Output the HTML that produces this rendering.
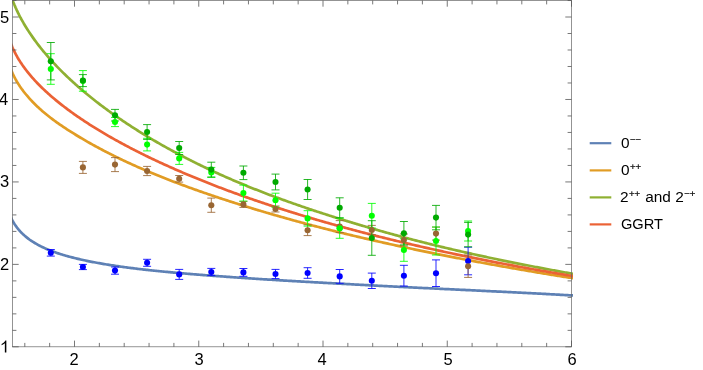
<!DOCTYPE html>
<html><head><meta charset="utf-8"><style>
html,body{margin:0;padding:0;background:#fff}
body{width:703px;height:370px;position:relative;overflow:hidden;font-family:"Liberation Sans",sans-serif;color:#000}
.t{position:absolute;will-change:transform;font-size:16.5px;line-height:1;white-space:nowrap}
.xl{transform:translateX(-50%);top:351px}
.yl{transform:translateY(-50%);left:0px}
.lg{position:absolute;will-change:transform;left:620.8px;font-size:15.4px;line-height:1;white-space:nowrap;transform:translateY(-50%)}
.lg sup{font-size:9.6px;vertical-align:baseline;position:relative;top:-5px;line-height:0;margin-left:0.4px;-webkit-text-stroke:0.2px #000}
</style></head><body>
<svg width="703" height="370" viewBox="0 0 703 370" style="position:absolute;left:0;top:0">
<defs><clipPath id="c"><rect x="12.0" y="0.5" width="561.00" height="346.3"/></clipPath></defs>
<g clip-path="url(#c)" fill="none" stroke-width="2.7" stroke-linejoin="round">
<path d="M7.41,206.87 L7.70,208.10 L7.99,209.23 L8.29,210.28 L8.58,211.25 L8.88,212.17 L9.17,213.03 L9.47,213.86 L9.76,214.64 L10.06,215.38 L10.35,216.10 L10.65,216.79 L10.94,217.45 L11.24,218.09 L11.53,218.70 L11.83,219.30 L12.12,219.88 L12.42,220.44 L12.71,220.99 L13.01,221.52 L13.30,222.03 L13.60,222.53 L13.89,223.02 L14.19,223.50 L14.48,223.97 L14.78,224.43 L15.07,224.87 L15.37,225.31 L15.66,225.73 L15.96,226.15 L16.25,226.56 L16.54,226.96 L16.84,227.36 L17.13,227.74 L17.43,228.12 L17.72,228.49 L18.02,228.86 L18.31,229.22 L18.61,229.57 L18.90,229.92 L19.20,230.26 L19.49,230.59 L19.79,230.92 L20.08,231.25 L20.38,231.57 L20.67,231.88 L20.97,232.19 L21.26,232.50 L21.56,232.80 L21.85,233.09 L22.15,233.38 L22.44,233.67 L22.74,233.96 L23.03,234.24 L23.33,234.51 L23.62,234.78 L23.92,235.05 L24.21,235.32 L24.51,235.58 L24.80,235.84 L26.04,236.89 L27.28,237.88 L28.52,238.83 L29.76,239.74 L31.00,240.60 L32.24,241.43 L33.48,242.22 L34.72,242.98 L35.96,243.71 L37.20,244.41 L38.44,245.09 L39.68,245.74 L40.92,246.36 L42.16,246.97 L43.40,247.56 L44.64,248.12 L45.87,248.67 L47.11,249.20 L48.35,249.72 L49.59,250.22 L50.83,250.70 L52.07,251.18 L53.31,251.64 L54.55,252.09 L55.79,252.52 L57.03,252.95 L58.27,253.36 L59.51,253.77 L60.75,254.17 L61.99,254.56 L63.23,254.93 L64.47,255.30 L65.71,255.67 L66.95,256.02 L68.19,256.37 L69.43,256.70 L70.67,257.04 L71.91,257.36 L73.15,257.68 L74.39,257.99 L75.63,258.30 L76.87,258.60 L78.11,258.89 L79.35,259.18 L80.59,259.47 L81.83,259.75 L83.07,260.02 L84.31,260.29 L85.55,260.55 L86.79,260.81 L88.02,261.07 L89.26,261.32 L90.50,261.57 L91.74,261.81 L92.98,262.05 L94.22,262.29 L95.46,262.52 L96.70,262.75 L97.94,262.98 L99.18,263.20 L100.42,263.42 L101.66,263.64 L102.90,263.85 L104.14,264.06 L105.38,264.27 L106.62,264.47 L107.86,264.67 L109.10,264.87 L110.34,265.07 L111.58,265.26 L112.82,265.45 L114.06,265.64 L115.30,265.83 L116.54,266.01 L117.78,266.20 L119.02,266.38 L120.26,266.55 L121.50,266.73 L122.74,266.90 L123.98,267.07 L125.22,267.24 L126.46,267.41 L127.70,267.57 L128.93,267.74 L130.17,267.90 L131.41,268.06 L132.65,268.21 L133.89,268.37 L135.13,268.52 L136.37,268.67 L137.61,268.82 L138.85,268.97 L140.09,269.12 L141.33,269.26 L142.57,269.40 L143.81,269.55 L145.05,269.69 L146.29,269.82 L147.53,269.96 L148.77,270.09 L150.01,270.23 L151.25,270.36 L152.49,270.49 L153.73,270.62 L154.97,270.74 L156.21,270.87 L157.45,271.00 L158.69,271.12 L159.93,271.24 L161.17,271.37 L162.41,271.49 L163.65,271.61 L164.89,271.73 L166.13,271.84 L167.37,271.96 L168.61,272.08 L169.85,272.19 L171.08,272.31 L172.32,272.42 L173.56,272.54 L174.80,272.65 L176.04,272.76 L177.28,272.87 L178.52,272.98 L179.76,273.09 L181.00,273.20 L182.24,273.31 L183.48,273.41 L184.72,273.52 L185.96,273.62 L187.20,273.73 L188.44,273.83 L189.68,273.94 L190.92,274.04 L192.16,274.14 L193.40,274.24 L194.64,274.34 L195.88,274.44 L197.12,274.54 L198.36,274.64 L199.60,274.74 L200.84,274.84 L202.08,274.94 L203.32,275.03 L204.56,275.13 L205.80,275.23 L207.04,275.32 L208.28,275.42 L209.52,275.51 L210.76,275.61 L211.99,275.70 L213.23,275.79 L214.47,275.89 L215.71,275.98 L216.95,276.07 L218.19,276.16 L219.43,276.25 L220.67,276.34 L221.91,276.43 L223.15,276.52 L224.39,276.61 L225.63,276.70 L226.87,276.79 L228.11,276.88 L229.35,276.97 L230.59,277.05 L231.83,277.14 L233.07,277.23 L234.31,277.32 L235.55,277.40 L236.79,277.49 L238.03,277.57 L239.27,277.66 L240.51,277.74 L241.75,277.83 L242.99,277.91 L244.23,278.00 L245.47,278.08 L246.71,278.16 L247.95,278.25 L249.19,278.33 L250.43,278.41 L251.67,278.50 L252.91,278.58 L254.14,278.66 L255.38,278.74 L256.62,278.82 L257.86,278.90 L259.10,278.98 L260.34,279.07 L261.58,279.15 L262.82,279.23 L264.06,279.31 L265.30,279.38 L266.54,279.46 L267.78,279.54 L269.02,279.62 L270.26,279.70 L271.50,279.77 L272.74,279.85 L273.98,279.93 L275.22,280.00 L276.46,280.08 L277.70,280.16 L278.94,280.23 L280.18,280.31 L281.42,280.38 L282.66,280.45 L283.90,280.53 L285.14,280.60 L286.38,280.67 L287.62,280.75 L288.86,280.82 L290.10,280.89 L291.34,280.97 L292.58,281.04 L293.82,281.11 L295.05,281.18 L296.29,281.25 L297.53,281.32 L298.77,281.39 L300.01,281.46 L301.25,281.54 L302.49,281.61 L303.73,281.68 L304.97,281.75 L306.21,281.82 L307.45,281.89 L308.69,281.95 L309.93,282.02 L311.17,282.09 L312.41,282.16 L313.65,282.23 L314.89,282.30 L316.13,282.37 L317.37,282.44 L318.61,282.51 L319.85,282.57 L321.09,282.64 L322.33,282.71 L323.57,282.78 L324.81,282.85 L326.05,282.92 L327.29,282.98 L328.53,283.05 L329.77,283.12 L331.01,283.19 L332.25,283.25 L333.49,283.32 L334.73,283.39 L335.97,283.46 L337.20,283.53 L338.44,283.59 L339.68,283.66 L340.92,283.73 L342.16,283.80 L343.40,283.86 L344.64,283.93 L345.88,284.00 L347.12,284.07 L348.36,284.14 L349.60,284.20 L350.84,284.27 L352.08,284.34 L353.32,284.41 L354.56,284.48 L355.80,284.54 L357.04,284.61 L358.28,284.68 L359.52,284.75 L360.76,284.81 L362.00,284.88 L363.24,284.95 L364.48,285.01 L365.72,285.08 L366.96,285.14 L368.20,285.21 L369.44,285.28 L370.68,285.34 L371.92,285.41 L373.16,285.47 L374.40,285.54 L375.64,285.60 L376.88,285.67 L378.11,285.73 L379.35,285.80 L380.59,285.86 L381.83,285.93 L383.07,285.99 L384.31,286.05 L385.55,286.12 L386.79,286.18 L388.03,286.25 L389.27,286.31 L390.51,286.37 L391.75,286.44 L392.99,286.50 L394.23,286.56 L395.47,286.63 L396.71,286.69 L397.95,286.75 L399.19,286.81 L400.43,286.88 L401.67,286.94 L402.91,287.00 L404.15,287.06 L405.39,287.12 L406.63,287.18 L407.87,287.25 L409.11,287.31 L410.35,287.37 L411.59,287.43 L412.83,287.49 L414.07,287.55 L415.31,287.61 L416.55,287.67 L417.79,287.73 L419.03,287.79 L420.26,287.85 L421.50,287.92 L422.74,287.98 L423.98,288.04 L425.22,288.09 L426.46,288.15 L427.70,288.21 L428.94,288.27 L430.18,288.33 L431.42,288.39 L432.66,288.45 L433.90,288.51 L435.14,288.57 L436.38,288.63 L437.62,288.69 L438.86,288.75 L440.10,288.80 L441.34,288.86 L442.58,288.92 L443.82,288.98 L445.06,289.04 L446.30,289.09 L447.54,289.15 L448.78,289.21 L450.02,289.27 L451.26,289.33 L452.50,289.38 L453.74,289.44 L454.98,289.50 L456.22,289.56 L457.46,289.62 L458.70,289.67 L459.94,289.73 L461.17,289.79 L462.41,289.85 L463.65,289.91 L464.89,289.97 L466.13,290.03 L467.37,290.09 L468.61,290.15 L469.85,290.21 L471.09,290.27 L472.33,290.33 L473.57,290.39 L474.81,290.45 L476.05,290.51 L477.29,290.57 L478.53,290.63 L479.77,290.69 L481.01,290.75 L482.25,290.81 L483.49,290.87 L484.73,290.93 L485.97,290.99 L487.21,291.05 L488.45,291.11 L489.69,291.17 L490.93,291.23 L492.17,291.29 L493.41,291.35 L494.65,291.41 L495.89,291.47 L497.13,291.53 L498.37,291.59 L499.61,291.65 L500.85,291.71 L502.09,291.77 L503.32,291.83 L504.56,291.89 L505.80,291.95 L507.04,292.01 L508.28,292.08 L509.52,292.14 L510.76,292.20 L512.00,292.26 L513.24,292.32 L514.48,292.38 L515.72,292.44 L516.96,292.49 L518.20,292.55 L519.44,292.61 L520.68,292.67 L521.92,292.73 L523.16,292.79 L524.40,292.86 L525.64,292.92 L526.88,292.98 L528.12,293.04 L529.36,293.11 L530.60,293.17 L531.84,293.24 L533.08,293.30 L534.32,293.37 L535.56,293.43 L536.80,293.50 L538.04,293.57 L539.28,293.63 L540.52,293.70 L541.76,293.77 L543.00,293.84 L544.23,293.91 L545.47,293.97 L546.71,294.04 L547.95,294.11 L549.19,294.18 L550.43,294.25 L551.67,294.31 L552.91,294.38 L554.15,294.45 L555.39,294.52 L556.63,294.59 L557.87,294.66 L559.11,294.72 L560.35,294.79 L561.59,294.86 L562.83,294.92 L564.07,294.99 L565.31,295.06 L566.55,295.12 L567.79,295.19 L569.03,295.25 L570.27,295.32 L571.51,295.38 L572.75,295.45 L573.99,295.51 L575.23,295.57" stroke="#5E81B5"/>
<path d="M7.41,57.71 L7.70,59.05 L7.99,60.27 L8.29,61.42 L8.58,62.49 L8.88,63.51 L9.17,64.47 L9.47,65.39 L9.76,66.27 L10.06,67.12 L10.35,67.93 L10.65,68.72 L10.94,69.49 L11.24,70.23 L11.53,70.94 L11.83,71.64 L12.12,72.32 L12.42,72.99 L12.71,73.64 L13.01,74.27 L13.30,74.89 L13.60,75.50 L13.89,76.09 L14.19,76.68 L14.48,77.25 L14.78,77.81 L15.07,78.36 L15.37,78.90 L15.66,79.44 L15.96,79.96 L16.25,80.48 L16.54,80.99 L16.84,81.49 L17.13,81.99 L17.43,82.47 L17.72,82.95 L18.02,83.43 L18.31,83.90 L18.61,84.36 L18.90,84.82 L19.20,85.27 L19.49,85.71 L19.79,86.15 L20.08,86.59 L20.38,87.02 L20.67,87.45 L20.97,87.87 L21.26,88.29 L21.56,88.70 L21.85,89.11 L22.15,89.51 L22.44,89.91 L22.74,90.31 L23.03,90.70 L23.33,91.09 L23.62,91.48 L23.92,91.86 L24.21,92.24 L24.51,92.61 L24.80,92.98 L26.04,94.51 L27.28,95.99 L28.52,97.43 L29.76,98.82 L31.00,100.17 L32.24,101.48 L33.48,102.76 L34.72,104.01 L35.96,105.22 L37.20,106.41 L38.44,107.57 L39.68,108.71 L40.92,109.82 L42.16,110.90 L43.40,111.97 L44.64,113.01 L45.87,114.04 L47.11,115.05 L48.35,116.03 L49.59,117.01 L50.83,117.96 L52.07,118.90 L53.31,119.83 L54.55,120.74 L55.79,121.64 L57.03,122.53 L58.27,123.41 L59.51,124.27 L60.75,125.13 L61.99,125.97 L63.23,126.81 L64.47,127.63 L65.71,128.45 L66.95,129.26 L68.19,130.06 L69.43,130.86 L70.67,131.64 L71.91,132.43 L73.15,133.20 L74.39,133.97 L75.63,134.73 L76.87,135.49 L78.11,136.24 L79.35,136.98 L80.59,137.72 L81.83,138.46 L83.07,139.19 L84.31,139.91 L85.55,140.63 L86.79,141.34 L88.02,142.05 L89.26,142.75 L90.50,143.45 L91.74,144.15 L92.98,144.84 L94.22,145.52 L95.46,146.20 L96.70,146.88 L97.94,147.55 L99.18,148.22 L100.42,148.88 L101.66,149.54 L102.90,150.19 L104.14,150.84 L105.38,151.48 L106.62,152.13 L107.86,152.76 L109.10,153.40 L110.34,154.02 L111.58,154.65 L112.82,155.27 L114.06,155.89 L115.30,156.50 L116.54,157.11 L117.78,157.72 L119.02,158.32 L120.26,158.92 L121.50,159.51 L122.74,160.10 L123.98,160.69 L125.22,161.27 L126.46,161.85 L127.70,162.43 L128.93,163.00 L130.17,163.57 L131.41,164.14 L132.65,164.70 L133.89,165.26 L135.13,165.82 L136.37,166.37 L137.61,166.92 L138.85,167.47 L140.09,168.01 L141.33,168.55 L142.57,169.09 L143.81,169.62 L145.05,170.15 L146.29,170.68 L147.53,171.21 L148.77,171.73 L150.01,172.25 L151.25,172.77 L152.49,173.28 L153.73,173.79 L154.97,174.30 L156.21,174.81 L157.45,175.31 L158.69,175.81 L159.93,176.31 L161.17,176.81 L162.41,177.31 L163.65,177.80 L164.89,178.29 L166.13,178.78 L167.37,179.26 L168.61,179.74 L169.85,180.22 L171.08,180.70 L172.32,181.18 L173.56,181.65 L174.80,182.13 L176.04,182.60 L177.28,183.07 L178.52,183.53 L179.76,184.00 L181.00,184.46 L182.24,184.92 L183.48,185.38 L184.72,185.84 L185.96,186.29 L187.20,186.75 L188.44,187.20 L189.68,187.65 L190.92,188.10 L192.16,188.54 L193.40,188.99 L194.64,189.43 L195.88,189.87 L197.12,190.31 L198.36,190.75 L199.60,191.18 L200.84,191.62 L202.08,192.05 L203.32,192.48 L204.56,192.91 L205.80,193.34 L207.04,193.77 L208.28,194.19 L209.52,194.62 L210.76,195.04 L211.99,195.46 L213.23,195.88 L214.47,196.30 L215.71,196.71 L216.95,197.13 L218.19,197.54 L219.43,197.95 L220.67,198.37 L221.91,198.78 L223.15,199.18 L224.39,199.59 L225.63,199.99 L226.87,200.40 L228.11,200.80 L229.35,201.20 L230.59,201.60 L231.83,202.00 L233.07,202.40 L234.31,202.79 L235.55,203.19 L236.79,203.58 L238.03,203.98 L239.27,204.37 L240.51,204.76 L241.75,205.14 L242.99,205.53 L244.23,205.92 L245.47,206.30 L246.71,206.69 L247.95,207.07 L249.19,207.45 L250.43,207.83 L251.67,208.21 L252.91,208.59 L254.14,208.96 L255.38,209.34 L256.62,209.71 L257.86,210.09 L259.10,210.46 L260.34,210.83 L261.58,211.20 L262.82,211.57 L264.06,211.94 L265.30,212.30 L266.54,212.67 L267.78,213.03 L269.02,213.39 L270.26,213.76 L271.50,214.12 L272.74,214.48 L273.98,214.84 L275.22,215.19 L276.46,215.55 L277.70,215.91 L278.94,216.26 L280.18,216.61 L281.42,216.97 L282.66,217.32 L283.90,217.67 L285.14,218.02 L286.38,218.36 L287.62,218.71 L288.86,219.06 L290.10,219.40 L291.34,219.75 L292.58,220.09 L293.82,220.43 L295.05,220.77 L296.29,221.11 L297.53,221.45 L298.77,221.79 L300.01,222.12 L301.25,222.46 L302.49,222.79 L303.73,223.13 L304.97,223.46 L306.21,223.79 L307.45,224.12 L308.69,224.45 L309.93,224.78 L311.17,225.11 L312.41,225.44 L313.65,225.76 L314.89,226.09 L316.13,226.41 L317.37,226.73 L318.61,227.05 L319.85,227.38 L321.09,227.70 L322.33,228.01 L323.57,228.33 L324.81,228.65 L326.05,228.97 L327.29,229.28 L328.53,229.59 L329.77,229.91 L331.01,230.22 L332.25,230.53 L333.49,230.84 L334.73,231.15 L335.97,231.46 L337.20,231.77 L338.44,232.08 L339.68,232.38 L340.92,232.69 L342.16,232.99 L343.40,233.29 L344.64,233.60 L345.88,233.90 L347.12,234.20 L348.36,234.50 L349.60,234.80 L350.84,235.10 L352.08,235.40 L353.32,235.69 L354.56,235.99 L355.80,236.28 L357.04,236.58 L358.28,236.87 L359.52,237.16 L360.76,237.46 L362.00,237.75 L363.24,238.04 L364.48,238.33 L365.72,238.62 L366.96,238.90 L368.20,239.19 L369.44,239.48 L370.68,239.76 L371.92,240.05 L373.16,240.33 L374.40,240.62 L375.64,240.90 L376.88,241.18 L378.11,241.46 L379.35,241.74 L380.59,242.02 L381.83,242.30 L383.07,242.58 L384.31,242.86 L385.55,243.13 L386.79,243.41 L388.03,243.68 L389.27,243.96 L390.51,244.23 L391.75,244.51 L392.99,244.78 L394.23,245.05 L395.47,245.32 L396.71,245.59 L397.95,245.86 L399.19,246.13 L400.43,246.40 L401.67,246.67 L402.91,246.93 L404.15,247.20 L405.39,247.46 L406.63,247.73 L407.87,247.99 L409.11,248.26 L410.35,248.52 L411.59,248.78 L412.83,249.04 L414.07,249.31 L415.31,249.57 L416.55,249.83 L417.79,250.09 L419.03,250.34 L420.26,250.60 L421.50,250.86 L422.74,251.12 L423.98,251.37 L425.22,251.63 L426.46,251.88 L427.70,252.14 L428.94,252.39 L430.18,252.64 L431.42,252.89 L432.66,253.15 L433.90,253.40 L435.14,253.65 L436.38,253.90 L437.62,254.15 L438.86,254.40 L440.10,254.64 L441.34,254.89 L442.58,255.14 L443.82,255.38 L445.06,255.63 L446.30,255.87 L447.54,256.12 L448.78,256.36 L450.02,256.61 L451.26,256.85 L452.50,257.09 L453.74,257.33 L454.98,257.57 L456.22,257.82 L457.46,258.06 L458.70,258.29 L459.94,258.53 L461.17,258.77 L462.41,259.01 L463.65,259.25 L464.89,259.48 L466.13,259.72 L467.37,259.96 L468.61,260.19 L469.85,260.42 L471.09,260.66 L472.33,260.89 L473.57,261.13 L474.81,261.36 L476.05,261.59 L477.29,261.82 L478.53,262.05 L479.77,262.28 L481.01,262.51 L482.25,262.74 L483.49,262.97 L484.73,263.20 L485.97,263.43 L487.21,263.65 L488.45,263.88 L489.69,264.11 L490.93,264.33 L492.17,264.56 L493.41,264.78 L494.65,265.01 L495.89,265.23 L497.13,265.45 L498.37,265.67 L499.61,265.90 L500.85,266.12 L502.09,266.34 L503.32,266.56 L504.56,266.78 L505.80,267.00 L507.04,267.22 L508.28,267.44 L509.52,267.66 L510.76,267.87 L512.00,268.09 L513.24,268.31 L514.48,268.52 L515.72,268.74 L516.96,268.96 L518.20,269.17 L519.44,269.39 L520.68,269.60 L521.92,269.81 L523.16,270.03 L524.40,270.24 L525.64,270.45 L526.88,270.66 L528.12,270.87 L529.36,271.08 L530.60,271.29 L531.84,271.50 L533.08,271.71 L534.32,271.92 L535.56,272.13 L536.80,272.34 L538.04,272.55 L539.28,272.75 L540.52,272.96 L541.76,273.16 L543.00,273.37 L544.23,273.58 L545.47,273.78 L546.71,273.98 L547.95,274.19 L549.19,274.39 L550.43,274.59 L551.67,274.80 L552.91,275.00 L554.15,275.20 L555.39,275.40 L556.63,275.60 L557.87,275.80 L559.11,276.00 L560.35,276.20 L561.59,276.40 L562.83,276.60 L564.07,276.80 L565.31,276.99 L566.55,277.19 L567.79,277.39 L569.03,277.58 L570.27,277.78 L571.51,277.97 L572.75,278.17 L573.99,278.36 L575.23,278.56" stroke="#E19C24"/>
<path d="M7.41,-17.84 L7.70,-16.36 L7.99,-14.99 L8.29,-13.70 L8.58,-12.48 L8.88,-11.33 L9.17,-10.22 L9.47,-9.16 L9.76,-8.14 L10.06,-7.15 L10.35,-6.19 L10.65,-5.26 L10.94,-4.36 L11.24,-3.48 L11.53,-2.62 L11.83,-1.79 L12.12,-0.97 L12.42,-0.17 L12.71,0.62 L13.01,1.39 L13.30,2.14 L13.60,2.89 L13.89,3.61 L14.19,4.33 L14.48,5.04 L14.78,5.73 L15.07,6.42 L15.37,7.09 L15.66,7.76 L15.96,8.41 L16.25,9.06 L16.54,9.70 L16.84,10.33 L17.13,10.96 L17.43,11.57 L17.72,12.18 L18.02,12.79 L18.31,13.38 L18.61,13.97 L18.90,14.56 L19.20,15.13 L19.49,15.71 L19.79,16.27 L20.08,16.84 L20.38,17.39 L20.67,17.94 L20.97,18.49 L21.26,19.03 L21.56,19.57 L21.85,20.10 L22.15,20.63 L22.44,21.15 L22.74,21.67 L23.03,22.18 L23.33,22.69 L23.62,23.20 L23.92,23.70 L24.21,24.20 L24.51,24.70 L24.80,25.19 L26.04,27.23 L27.28,29.20 L28.52,31.13 L29.76,33.01 L31.00,34.84 L32.24,36.63 L33.48,38.39 L34.72,40.10 L35.96,41.79 L37.20,43.44 L38.44,45.06 L39.68,46.65 L40.92,48.22 L42.16,49.76 L43.40,51.27 L44.64,52.76 L45.87,54.23 L47.11,55.68 L48.35,57.11 L49.59,58.51 L50.83,59.90 L52.07,61.27 L53.31,62.62 L54.55,63.95 L55.79,65.27 L57.03,66.57 L58.27,67.86 L59.51,69.13 L60.75,70.38 L61.99,71.62 L63.23,72.85 L64.47,74.07 L65.71,75.27 L66.95,76.46 L68.19,77.64 L69.43,78.80 L70.67,79.96 L71.91,81.10 L73.15,82.23 L74.39,83.36 L75.63,84.47 L76.87,85.57 L78.11,86.66 L79.35,87.74 L80.59,88.81 L81.83,89.87 L83.07,90.93 L84.31,91.97 L85.55,93.01 L86.79,94.04 L88.02,95.06 L89.26,96.07 L90.50,97.07 L91.74,98.06 L92.98,99.05 L94.22,100.03 L95.46,101.01 L96.70,101.97 L97.94,102.93 L99.18,103.88 L100.42,104.83 L101.66,105.77 L102.90,106.70 L104.14,107.62 L105.38,108.54 L106.62,109.45 L107.86,110.36 L109.10,111.26 L110.34,112.16 L111.58,113.04 L112.82,113.93 L114.06,114.80 L115.30,115.68 L116.54,116.54 L117.78,117.40 L119.02,118.26 L120.26,119.11 L121.50,119.95 L122.74,120.79 L123.98,121.63 L125.22,122.46 L126.46,123.28 L127.70,124.10 L128.93,124.92 L130.17,125.73 L131.41,126.53 L132.65,127.33 L133.89,128.13 L135.13,128.92 L136.37,129.71 L137.61,130.49 L138.85,131.27 L140.09,132.05 L141.33,132.82 L142.57,133.58 L143.81,134.35 L145.05,135.10 L146.29,135.86 L147.53,136.61 L148.77,137.35 L150.01,138.09 L151.25,138.83 L152.49,139.56 L153.73,140.29 L154.97,141.02 L156.21,141.74 L157.45,142.46 L158.69,143.17 L159.93,143.89 L161.17,144.59 L162.41,145.30 L163.65,146.00 L164.89,146.69 L166.13,147.38 L167.37,148.07 L168.61,148.76 L169.85,149.44 L171.08,150.12 L172.32,150.79 L173.56,151.47 L174.80,152.13 L176.04,152.80 L177.28,153.46 L178.52,154.12 L179.76,154.77 L181.00,155.43 L182.24,156.07 L183.48,156.72 L184.72,157.36 L185.96,158.00 L187.20,158.64 L188.44,159.27 L189.68,159.90 L190.92,160.53 L192.16,161.15 L193.40,161.77 L194.64,162.39 L195.88,163.00 L197.12,163.62 L198.36,164.22 L199.60,164.83 L200.84,165.43 L202.08,166.03 L203.32,166.63 L204.56,167.23 L205.80,167.82 L207.04,168.41 L208.28,168.99 L209.52,169.58 L210.76,170.16 L211.99,170.74 L213.23,171.31 L214.47,171.88 L215.71,172.45 L216.95,173.02 L218.19,173.59 L219.43,174.15 L220.67,174.71 L221.91,175.26 L223.15,175.82 L224.39,176.37 L225.63,176.92 L226.87,177.47 L228.11,178.01 L229.35,178.55 L230.59,179.09 L231.83,179.63 L233.07,180.16 L234.31,180.69 L235.55,181.22 L236.79,181.75 L238.03,182.27 L239.27,182.80 L240.51,183.32 L241.75,183.83 L242.99,184.35 L244.23,184.86 L245.47,185.37 L246.71,185.88 L247.95,186.38 L249.19,186.89 L250.43,187.39 L251.67,187.89 L252.91,188.39 L254.14,188.88 L255.38,189.37 L256.62,189.86 L257.86,190.35 L259.10,190.84 L260.34,191.32 L261.58,191.80 L262.82,192.28 L264.06,192.76 L265.30,193.23 L266.54,193.71 L267.78,194.18 L269.02,194.65 L270.26,195.12 L271.50,195.58 L272.74,196.05 L273.98,196.51 L275.22,196.97 L276.46,197.43 L277.70,197.88 L278.94,198.34 L280.18,198.79 L281.42,199.24 L282.66,199.69 L283.90,200.14 L285.14,200.59 L286.38,201.03 L287.62,201.47 L288.86,201.91 L290.10,202.35 L291.34,202.79 L292.58,203.23 L293.82,203.67 L295.05,204.10 L296.29,204.53 L297.53,204.96 L298.77,205.39 L300.01,205.82 L301.25,206.25 L302.49,206.67 L303.73,207.09 L304.97,207.52 L306.21,207.94 L307.45,208.36 L308.69,208.78 L309.93,209.19 L311.17,209.61 L312.41,210.02 L313.65,210.43 L314.89,210.85 L316.13,211.26 L317.37,211.67 L318.61,212.07 L319.85,212.48 L321.09,212.89 L322.33,213.29 L323.57,213.69 L324.81,214.09 L326.05,214.50 L327.29,214.89 L328.53,215.29 L329.77,215.69 L331.01,216.09 L332.25,216.48 L333.49,216.87 L334.73,217.26 L335.97,217.66 L337.20,218.05 L338.44,218.43 L339.68,218.82 L340.92,219.21 L342.16,219.59 L343.40,219.98 L344.64,220.36 L345.88,220.74 L347.12,221.12 L348.36,221.50 L349.60,221.88 L350.84,222.26 L352.08,222.63 L353.32,223.01 L354.56,223.38 L355.80,223.75 L357.04,224.12 L358.28,224.49 L359.52,224.86 L360.76,225.23 L362.00,225.60 L363.24,225.96 L364.48,226.33 L365.72,226.69 L366.96,227.05 L368.20,227.41 L369.44,227.77 L370.68,228.13 L371.92,228.49 L373.16,228.85 L374.40,229.20 L375.64,229.56 L376.88,229.91 L378.11,230.26 L379.35,230.61 L380.59,230.96 L381.83,231.31 L383.07,231.66 L384.31,232.01 L385.55,232.35 L386.79,232.70 L388.03,233.04 L389.27,233.39 L390.51,233.73 L391.75,234.07 L392.99,234.41 L394.23,234.75 L395.47,235.08 L396.71,235.42 L397.95,235.75 L399.19,236.09 L400.43,236.42 L401.67,236.75 L402.91,237.08 L404.15,237.41 L405.39,237.74 L406.63,238.07 L407.87,238.40 L409.11,238.72 L410.35,239.05 L411.59,239.37 L412.83,239.69 L414.07,240.02 L415.31,240.34 L416.55,240.65 L417.79,240.97 L419.03,241.29 L420.26,241.61 L421.50,241.92 L422.74,242.23 L423.98,242.55 L425.22,242.86 L426.46,243.17 L427.70,243.48 L428.94,243.79 L430.18,244.10 L431.42,244.40 L432.66,244.71 L433.90,245.01 L435.14,245.32 L436.38,245.62 L437.62,245.92 L438.86,246.22 L440.10,246.52 L441.34,246.82 L442.58,247.12 L443.82,247.41 L445.06,247.71 L446.30,248.00 L447.54,248.30 L448.78,248.59 L450.02,248.88 L451.26,249.17 L452.50,249.46 L453.74,249.75 L454.98,250.04 L456.22,250.32 L457.46,250.61 L458.70,250.89 L459.94,251.18 L461.17,251.46 L462.41,251.74 L463.65,252.03 L464.89,252.31 L466.13,252.59 L467.37,252.86 L468.61,253.14 L469.85,253.42 L471.09,253.69 L472.33,253.97 L473.57,254.24 L474.81,254.52 L476.05,254.79 L477.29,255.06 L478.53,255.33 L479.77,255.60 L481.01,255.87 L482.25,256.14 L483.49,256.41 L484.73,256.67 L485.97,256.94 L487.21,257.21 L488.45,257.47 L489.69,257.73 L490.93,258.00 L492.17,258.26 L493.41,258.52 L494.65,258.78 L495.89,259.04 L497.13,259.30 L498.37,259.56 L499.61,259.81 L500.85,260.07 L502.09,260.33 L503.32,260.58 L504.56,260.84 L505.80,261.09 L507.04,261.34 L508.28,261.60 L509.52,261.85 L510.76,262.10 L512.00,262.35 L513.24,262.60 L514.48,262.85 L515.72,263.09 L516.96,263.34 L518.20,263.59 L519.44,263.83 L520.68,264.08 L521.92,264.32 L523.16,264.57 L524.40,264.81 L525.64,265.05 L526.88,265.30 L528.12,265.54 L529.36,265.78 L530.60,266.02 L531.84,266.26 L533.08,266.49 L534.32,266.73 L535.56,266.97 L536.80,267.20 L538.04,267.44 L539.28,267.68 L540.52,267.91 L541.76,268.14 L543.00,268.38 L544.23,268.61 L545.47,268.84 L546.71,269.07 L547.95,269.30 L549.19,269.53 L550.43,269.76 L551.67,269.99 L552.91,270.22 L554.15,270.45 L555.39,270.67 L556.63,270.90 L557.87,271.12 L559.11,271.35 L560.35,271.57 L561.59,271.80 L562.83,272.02 L564.07,272.24 L565.31,272.46 L566.55,272.68 L567.79,272.90 L569.03,273.12 L570.27,273.34 L571.51,273.56 L572.75,273.78 L573.99,274.00 L575.23,274.21" stroke="#8FB032"/>
<path d="M7.41,31.52 L7.70,32.88 L7.99,34.13 L8.29,35.31 L8.58,36.41 L8.88,37.45 L9.17,38.44 L9.47,39.39 L9.76,40.30 L10.06,41.17 L10.35,42.02 L10.65,42.83 L10.94,43.62 L11.24,44.39 L11.53,45.14 L11.83,45.86 L12.12,46.57 L12.42,47.26 L12.71,47.94 L13.01,48.60 L13.30,49.25 L13.60,49.88 L13.89,50.50 L14.19,51.11 L14.48,51.71 L14.78,52.30 L15.07,52.88 L15.37,53.45 L15.66,54.01 L15.96,54.56 L16.25,55.11 L16.54,55.64 L16.84,56.17 L17.13,56.69 L17.43,57.20 L17.72,57.71 L18.02,58.21 L18.31,58.71 L18.61,59.20 L18.90,59.68 L19.20,60.16 L19.49,60.63 L19.79,61.10 L20.08,61.56 L20.38,62.01 L20.67,62.47 L20.97,62.91 L21.26,63.36 L21.56,63.80 L21.85,64.23 L22.15,64.66 L22.44,65.09 L22.74,65.51 L23.03,65.93 L23.33,66.35 L23.62,66.76 L23.92,67.17 L24.21,67.57 L24.51,67.97 L24.80,68.37 L26.04,70.01 L27.28,71.61 L28.52,73.15 L29.76,74.65 L31.00,76.12 L32.24,77.55 L33.48,78.94 L34.72,80.31 L35.96,81.64 L37.20,82.95 L38.44,84.23 L39.68,85.49 L40.92,86.72 L42.16,87.93 L43.40,89.12 L44.64,90.30 L45.87,91.45 L47.11,92.59 L48.35,93.71 L49.59,94.81 L50.83,95.90 L52.07,96.97 L53.31,98.03 L54.55,99.07 L55.79,100.11 L57.03,101.13 L58.27,102.13 L59.51,103.13 L60.75,104.11 L61.99,105.09 L63.23,106.05 L64.47,107.00 L65.71,107.94 L66.95,108.87 L68.19,109.80 L69.43,110.71 L70.67,111.62 L71.91,112.51 L73.15,113.40 L74.39,114.28 L75.63,115.16 L76.87,116.02 L78.11,116.88 L79.35,117.73 L80.59,118.57 L81.83,119.41 L83.07,120.23 L84.31,121.06 L85.55,121.87 L86.79,122.68 L88.02,123.48 L89.26,124.28 L90.50,125.07 L91.74,125.86 L92.98,126.64 L94.22,127.41 L95.46,128.18 L96.70,128.94 L97.94,129.70 L99.18,130.46 L100.42,131.20 L101.66,131.95 L102.90,132.68 L104.14,133.42 L105.38,134.14 L106.62,134.87 L107.86,135.59 L109.10,136.30 L110.34,137.01 L111.58,137.72 L112.82,138.42 L114.06,139.12 L115.30,139.81 L116.54,140.50 L117.78,141.18 L119.02,141.87 L120.26,142.54 L121.50,143.22 L122.74,143.89 L123.98,144.55 L125.22,145.21 L126.46,145.87 L127.70,146.53 L128.93,147.18 L130.17,147.83 L131.41,148.47 L132.65,149.11 L133.89,149.75 L135.13,150.39 L136.37,151.02 L137.61,151.64 L138.85,152.27 L140.09,152.89 L141.33,153.51 L142.57,154.12 L143.81,154.74 L145.05,155.35 L146.29,155.95 L147.53,156.56 L148.77,157.16 L150.01,157.75 L151.25,158.35 L152.49,158.94 L153.73,159.53 L154.97,160.12 L156.21,160.70 L157.45,161.28 L158.69,161.86 L159.93,162.44 L161.17,163.01 L162.41,163.58 L163.65,164.15 L164.89,164.71 L166.13,165.28 L167.37,165.84 L168.61,166.39 L169.85,166.95 L171.08,167.50 L172.32,168.05 L173.56,168.60 L174.80,169.15 L176.04,169.69 L177.28,170.23 L178.52,170.77 L179.76,171.31 L181.00,171.84 L182.24,172.38 L183.48,172.91 L184.72,173.43 L185.96,173.96 L187.20,174.48 L188.44,175.00 L189.68,175.52 L190.92,176.04 L192.16,176.56 L193.40,177.07 L194.64,177.58 L195.88,178.09 L197.12,178.60 L198.36,179.10 L199.60,179.60 L200.84,180.10 L202.08,180.60 L203.32,181.10 L204.56,181.59 L205.80,182.09 L207.04,182.58 L208.28,183.07 L209.52,183.56 L210.76,184.04 L211.99,184.52 L213.23,185.01 L214.47,185.49 L215.71,185.96 L216.95,186.44 L218.19,186.92 L219.43,187.39 L220.67,187.86 L221.91,188.33 L223.15,188.80 L224.39,189.26 L225.63,189.73 L226.87,190.19 L228.11,190.65 L229.35,191.11 L230.59,191.57 L231.83,192.02 L233.07,192.48 L234.31,192.93 L235.55,193.38 L236.79,193.83 L238.03,194.28 L239.27,194.72 L240.51,195.17 L241.75,195.61 L242.99,196.05 L244.23,196.49 L245.47,196.93 L246.71,197.36 L247.95,197.80 L249.19,198.23 L250.43,198.66 L251.67,199.10 L252.91,199.52 L254.14,199.95 L255.38,200.38 L256.62,200.80 L257.86,201.23 L259.10,201.65 L260.34,202.07 L261.58,202.49 L262.82,202.90 L264.06,203.32 L265.30,203.73 L266.54,204.15 L267.78,204.56 L269.02,204.97 L270.26,205.38 L271.50,205.79 L272.74,206.19 L273.98,206.60 L275.22,207.00 L276.46,207.40 L277.70,207.80 L278.94,208.20 L280.18,208.60 L281.42,209.00 L282.66,209.39 L283.90,209.79 L285.14,210.18 L286.38,210.57 L287.62,210.96 L288.86,211.35 L290.10,211.74 L291.34,212.13 L292.58,212.51 L293.82,212.89 L295.05,213.28 L296.29,213.66 L297.53,214.04 L298.77,214.42 L300.01,214.80 L301.25,215.17 L302.49,215.55 L303.73,215.92 L304.97,216.30 L306.21,216.67 L307.45,217.04 L308.69,217.41 L309.93,217.78 L311.17,218.14 L312.41,218.51 L313.65,218.87 L314.89,219.24 L316.13,219.60 L317.37,219.96 L318.61,220.32 L319.85,220.68 L321.09,221.04 L322.33,221.40 L323.57,221.75 L324.81,222.11 L326.05,222.46 L327.29,222.81 L328.53,223.16 L329.77,223.52 L331.01,223.86 L332.25,224.21 L333.49,224.56 L334.73,224.91 L335.97,225.25 L337.20,225.60 L338.44,225.94 L339.68,226.28 L340.92,226.62 L342.16,226.96 L343.40,227.30 L344.64,227.64 L345.88,227.97 L347.12,228.31 L348.36,228.64 L349.60,228.98 L350.84,229.31 L352.08,229.64 L353.32,229.97 L354.56,230.30 L355.80,230.63 L357.04,230.96 L358.28,231.29 L359.52,231.61 L360.76,231.94 L362.00,232.26 L363.24,232.58 L364.48,232.91 L365.72,233.23 L366.96,233.55 L368.20,233.87 L369.44,234.18 L370.68,234.50 L371.92,234.82 L373.16,235.13 L374.40,235.45 L375.64,235.76 L376.88,236.07 L378.11,236.39 L379.35,236.70 L380.59,237.01 L381.83,237.31 L383.07,237.62 L384.31,237.93 L385.55,238.24 L386.79,238.54 L388.03,238.85 L389.27,239.15 L390.51,239.45 L391.75,239.75 L392.99,240.06 L394.23,240.36 L395.47,240.66 L396.71,240.95 L397.95,241.25 L399.19,241.55 L400.43,241.84 L401.67,242.14 L402.91,242.43 L404.15,242.73 L405.39,243.02 L406.63,243.31 L407.87,243.60 L409.11,243.89 L410.35,244.18 L411.59,244.47 L412.83,244.76 L414.07,245.04 L415.31,245.33 L416.55,245.62 L417.79,245.90 L419.03,246.18 L420.26,246.47 L421.50,246.75 L422.74,247.03 L423.98,247.31 L425.22,247.59 L426.46,247.87 L427.70,248.15 L428.94,248.43 L430.18,248.70 L431.42,248.98 L432.66,249.25 L433.90,249.53 L435.14,249.80 L436.38,250.07 L437.62,250.35 L438.86,250.62 L440.10,250.89 L441.34,251.16 L442.58,251.43 L443.82,251.70 L445.06,251.96 L446.30,252.23 L447.54,252.50 L448.78,252.76 L450.02,253.03 L451.26,253.29 L452.50,253.55 L453.74,253.82 L454.98,254.08 L456.22,254.34 L457.46,254.60 L458.70,254.86 L459.94,255.12 L461.17,255.38 L462.41,255.63 L463.65,255.89 L464.89,256.15 L466.13,256.40 L467.37,256.66 L468.61,256.91 L469.85,257.17 L471.09,257.42 L472.33,257.67 L473.57,257.92 L474.81,258.17 L476.05,258.42 L477.29,258.67 L478.53,258.92 L479.77,259.17 L481.01,259.42 L482.25,259.67 L483.49,259.91 L484.73,260.16 L485.97,260.40 L487.21,260.65 L488.45,260.89 L489.69,261.13 L490.93,261.38 L492.17,261.62 L493.41,261.86 L494.65,262.10 L495.89,262.34 L497.13,262.58 L498.37,262.82 L499.61,263.06 L500.85,263.29 L502.09,263.53 L503.32,263.77 L504.56,264.00 L505.80,264.24 L507.04,264.47 L508.28,264.70 L509.52,264.94 L510.76,265.17 L512.00,265.40 L513.24,265.63 L514.48,265.86 L515.72,266.09 L516.96,266.32 L518.20,266.55 L519.44,266.78 L520.68,267.01 L521.92,267.24 L523.16,267.46 L524.40,267.69 L525.64,267.91 L526.88,268.14 L528.12,268.36 L529.36,268.59 L530.60,268.81 L531.84,269.03 L533.08,269.26 L534.32,269.48 L535.56,269.70 L536.80,269.92 L538.04,270.14 L539.28,270.36 L540.52,270.58 L541.76,270.79 L543.00,271.01 L544.23,271.23 L545.47,271.45 L546.71,271.66 L547.95,271.88 L549.19,272.09 L550.43,272.31 L551.67,272.52 L552.91,272.73 L554.15,272.95 L555.39,273.16 L556.63,273.37 L557.87,273.58 L559.11,273.79 L560.35,274.00 L561.59,274.21 L562.83,274.42 L564.07,274.63 L565.31,274.84 L566.55,275.05 L567.79,275.25 L569.03,275.46 L570.27,275.67 L571.51,275.87 L572.75,276.08 L573.99,276.28 L575.23,276.48" stroke="#EB6235"/>
</g>
<path d="M50.80,249.50V256.10M46.80,249.50H54.80M46.80,256.10H54.80" stroke="#0000FF" stroke-width="0.85" fill="none"/>
<path d="M82.90,264.40V269.60M78.90,264.40H86.90M78.90,269.60H86.90" stroke="#0000FF" stroke-width="0.85" fill="none"/>
<path d="M115.00,267.00V274.20M111.00,267.00H119.00M111.00,274.20H119.00" stroke="#0000FF" stroke-width="0.85" fill="none"/>
<path d="M147.10,259.30V266.30M143.10,259.30H151.10M143.10,266.30H151.10" stroke="#0000FF" stroke-width="0.85" fill="none"/>
<path d="M179.20,269.40V279.40M175.20,269.40H183.20M175.20,279.40H183.20" stroke="#0000FF" stroke-width="0.85" fill="none"/>
<path d="M211.30,268.40V275.60M207.30,268.40H215.30M207.30,275.60H215.30" stroke="#0000FF" stroke-width="0.85" fill="none"/>
<path d="M243.40,268.50V276.30M239.40,268.50H247.40M239.40,276.30H247.40" stroke="#0000FF" stroke-width="0.85" fill="none"/>
<path d="M275.50,269.40V278.60M271.50,269.40H279.50M271.50,278.60H279.50" stroke="#0000FF" stroke-width="0.85" fill="none"/>
<path d="M307.60,267.70V278.30M303.60,267.70H311.60M303.60,278.30H311.60" stroke="#0000FF" stroke-width="0.85" fill="none"/>
<path d="M339.70,269.50V283.30M335.70,269.50H343.70M335.70,283.30H343.70" stroke="#0000FF" stroke-width="0.85" fill="none"/>
<path d="M371.80,273.10V288.50M367.80,273.10H375.80M367.80,288.50H375.80" stroke="#0000FF" stroke-width="0.85" fill="none"/>
<path d="M403.90,265.30V286.10M399.90,265.30H407.90M399.90,286.10H407.90" stroke="#0000FF" stroke-width="0.85" fill="none"/>
<path d="M436.00,259.90V286.50M432.00,259.90H440.00M432.00,286.50H440.00" stroke="#0000FF" stroke-width="0.85" fill="none"/>
<path d="M468.10,247.20V274.80M464.10,247.20H472.10M464.10,274.80H472.10" stroke="#0000FF" stroke-width="0.85" fill="none"/>
<path d="M82.90,161.40V173.40M78.90,161.40H86.90M78.90,173.40H86.90" stroke="#996633" stroke-width="0.85" fill="none"/>
<path d="M115.00,157.60V171.60M111.00,157.60H119.00M111.00,171.60H119.00" stroke="#996633" stroke-width="0.85" fill="none"/>
<path d="M147.10,166.40V175.60M143.10,166.40H151.10M143.10,175.60H151.10" stroke="#996633" stroke-width="0.85" fill="none"/>
<path d="M179.20,175.50V182.10M175.20,175.50H183.20M175.20,182.10H183.20" stroke="#996633" stroke-width="0.85" fill="none"/>
<path d="M211.30,198.10V212.30M207.30,198.10H215.30M207.30,212.30H215.30" stroke="#996633" stroke-width="0.85" fill="none"/>
<path d="M243.40,201.40V207.40M239.40,201.40H247.40M239.40,207.40H247.40" stroke="#996633" stroke-width="0.85" fill="none"/>
<path d="M275.50,206.00V212.00M271.50,206.00H279.50M271.50,212.00H279.50" stroke="#996633" stroke-width="0.85" fill="none"/>
<path d="M307.60,224.80V235.60M303.60,224.80H311.60M303.60,235.60H311.60" stroke="#996633" stroke-width="0.85" fill="none"/>
<path d="M339.70,220.60V232.60M335.70,220.60H343.70M335.70,232.60H343.70" stroke="#996633" stroke-width="0.85" fill="none"/>
<path d="M371.80,225.40V234.60M367.80,225.40H375.80M367.80,234.60H375.80" stroke="#996633" stroke-width="0.85" fill="none"/>
<path d="M403.90,234.00V246.00M399.90,234.00H407.90M399.90,246.00H407.90" stroke="#996633" stroke-width="0.85" fill="none"/>
<path d="M436.00,227.10V240.10M432.00,227.10H440.00M432.00,240.10H440.00" stroke="#996633" stroke-width="0.85" fill="none"/>
<path d="M468.10,255.00V277.40M464.10,255.00H472.10M464.10,277.40H472.10" stroke="#996633" stroke-width="0.85" fill="none"/>
<path d="M50.80,53.70V84.30M46.80,53.70H54.80M46.80,84.30H54.80" stroke="#00FF00" stroke-width="0.85" fill="none"/>
<path d="M82.90,70.60V91.20M78.90,70.60H86.90M78.90,91.20H86.90" stroke="#00FF00" stroke-width="0.85" fill="none"/>
<path d="M115.00,117.40V126.60M111.00,117.40H119.00M111.00,126.60H119.00" stroke="#00FF00" stroke-width="0.85" fill="none"/>
<path d="M147.10,138.30V150.90M143.10,138.30H151.10M143.10,150.90H151.10" stroke="#00FF00" stroke-width="0.85" fill="none"/>
<path d="M179.20,152.40V164.40M175.20,152.40H183.20M175.20,164.40H183.20" stroke="#00FF00" stroke-width="0.85" fill="none"/>
<path d="M211.30,167.40V177.40M207.30,167.40H215.30M207.30,177.40H215.30" stroke="#00FF00" stroke-width="0.85" fill="none"/>
<path d="M243.40,185.10V201.10M239.40,185.10H247.40M239.40,201.10H247.40" stroke="#00FF00" stroke-width="0.85" fill="none"/>
<path d="M275.50,193.20V207.20M271.50,193.20H279.50M271.50,207.20H279.50" stroke="#00FF00" stroke-width="0.85" fill="none"/>
<path d="M307.60,210.70V226.10M303.60,210.70H311.60M303.60,226.10H311.60" stroke="#00FF00" stroke-width="0.85" fill="none"/>
<path d="M339.70,218.10V238.30M335.70,218.10H343.70M335.70,238.30H343.70" stroke="#00FF00" stroke-width="0.85" fill="none"/>
<path d="M371.80,203.40V228.00M367.80,203.40H375.80M367.80,228.00H375.80" stroke="#00FF00" stroke-width="0.85" fill="none"/>
<path d="M403.90,238.70V261.30M399.90,238.70H407.90M399.90,261.30H407.90" stroke="#00FF00" stroke-width="0.85" fill="none"/>
<path d="M436.00,227.00V255.00M432.00,227.00H440.00M432.00,255.00H440.00" stroke="#00FF00" stroke-width="0.85" fill="none"/>
<path d="M468.10,221.00V241.00M464.10,221.00H472.10M464.10,241.00H472.10" stroke="#00FF00" stroke-width="0.85" fill="none"/>
<path d="M50.80,42.50V79.90M46.80,42.50H54.80M46.80,79.90H54.80" stroke="#00AA00" stroke-width="0.85" fill="none"/>
<path d="M82.90,74.60V86.60M78.90,74.60H86.90M78.90,86.60H86.90" stroke="#00AA00" stroke-width="0.85" fill="none"/>
<path d="M115.00,109.40V121.00M111.00,109.40H119.00M111.00,121.00H119.00" stroke="#00AA00" stroke-width="0.85" fill="none"/>
<path d="M147.10,124.60V139.40M143.10,124.60H151.10M143.10,139.40H151.10" stroke="#00AA00" stroke-width="0.85" fill="none"/>
<path d="M179.20,141.50V154.50M175.20,141.50H183.20M175.20,154.50H183.20" stroke="#00AA00" stroke-width="0.85" fill="none"/>
<path d="M211.30,162.20V177.00M207.30,162.20H215.30M207.30,177.00H215.30" stroke="#00AA00" stroke-width="0.85" fill="none"/>
<path d="M243.40,166.00V179.60M239.40,166.00H247.40M239.40,179.60H247.40" stroke="#00AA00" stroke-width="0.85" fill="none"/>
<path d="M275.50,174.10V189.90M271.50,174.10H279.50M271.50,189.90H279.50" stroke="#00AA00" stroke-width="0.85" fill="none"/>
<path d="M307.60,179.50V199.50M303.60,179.50H311.60M303.60,199.50H311.60" stroke="#00AA00" stroke-width="0.85" fill="none"/>
<path d="M339.70,197.80V217.80M335.70,197.80H343.70M335.70,217.80H343.70" stroke="#00AA00" stroke-width="0.85" fill="none"/>
<path d="M371.80,220.70V255.30M367.80,220.70H375.80M367.80,255.30H375.80" stroke="#00AA00" stroke-width="0.85" fill="none"/>
<path d="M403.90,221.50V244.90M399.90,221.50H407.90M399.90,244.90H407.90" stroke="#00AA00" stroke-width="0.85" fill="none"/>
<path d="M436.00,205.40V229.80M432.00,205.40H440.00M432.00,229.80H440.00" stroke="#00AA00" stroke-width="0.85" fill="none"/>
<path d="M468.10,222.40V246.80M464.10,222.40H472.10M464.10,246.80H472.10" stroke="#00AA00" stroke-width="0.85" fill="none"/>
<circle cx="50.80" cy="252.80" r="3.05" fill="#0000FF"/>
<circle cx="82.90" cy="267.00" r="3.05" fill="#0000FF"/>
<circle cx="115.00" cy="270.60" r="3.05" fill="#0000FF"/>
<circle cx="147.10" cy="262.80" r="3.05" fill="#0000FF"/>
<circle cx="179.20" cy="274.40" r="3.05" fill="#0000FF"/>
<circle cx="211.30" cy="272.00" r="3.05" fill="#0000FF"/>
<circle cx="243.40" cy="272.40" r="3.05" fill="#0000FF"/>
<circle cx="275.50" cy="274.00" r="3.05" fill="#0000FF"/>
<circle cx="307.60" cy="273.00" r="3.05" fill="#0000FF"/>
<circle cx="339.70" cy="276.40" r="3.05" fill="#0000FF"/>
<circle cx="371.80" cy="280.80" r="3.05" fill="#0000FF"/>
<circle cx="403.90" cy="275.70" r="3.05" fill="#0000FF"/>
<circle cx="436.00" cy="273.20" r="3.05" fill="#0000FF"/>
<circle cx="468.10" cy="261.00" r="3.05" fill="#0000FF"/>
<circle cx="50.80" cy="69.00" r="3.05" fill="#00FF00"/>
<circle cx="82.90" cy="80.90" r="3.05" fill="#00FF00"/>
<circle cx="115.00" cy="122.00" r="3.05" fill="#00FF00"/>
<circle cx="147.10" cy="144.60" r="3.05" fill="#00FF00"/>
<circle cx="179.20" cy="158.40" r="3.05" fill="#00FF00"/>
<circle cx="211.30" cy="172.40" r="3.05" fill="#00FF00"/>
<circle cx="243.40" cy="193.10" r="3.05" fill="#00FF00"/>
<circle cx="275.50" cy="200.20" r="3.05" fill="#00FF00"/>
<circle cx="307.60" cy="218.40" r="3.05" fill="#00FF00"/>
<circle cx="339.70" cy="228.20" r="3.05" fill="#00FF00"/>
<circle cx="371.80" cy="215.70" r="3.05" fill="#00FF00"/>
<circle cx="403.90" cy="250.00" r="3.05" fill="#00FF00"/>
<circle cx="436.00" cy="241.00" r="3.05" fill="#00FF00"/>
<circle cx="468.10" cy="231.00" r="3.05" fill="#00FF00"/>
<circle cx="50.80" cy="61.20" r="3.05" fill="#00AA00"/>
<circle cx="82.90" cy="80.60" r="3.05" fill="#00AA00"/>
<circle cx="115.00" cy="115.20" r="3.05" fill="#00AA00"/>
<circle cx="147.10" cy="132.00" r="3.05" fill="#00AA00"/>
<circle cx="179.20" cy="148.00" r="3.05" fill="#00AA00"/>
<circle cx="211.30" cy="169.60" r="3.05" fill="#00AA00"/>
<circle cx="243.40" cy="172.80" r="3.05" fill="#00AA00"/>
<circle cx="275.50" cy="182.00" r="3.05" fill="#00AA00"/>
<circle cx="307.60" cy="189.50" r="3.05" fill="#00AA00"/>
<circle cx="339.70" cy="207.80" r="3.05" fill="#00AA00"/>
<circle cx="371.80" cy="238.00" r="3.05" fill="#00AA00"/>
<circle cx="403.90" cy="233.20" r="3.05" fill="#00AA00"/>
<circle cx="436.00" cy="217.60" r="3.05" fill="#00AA00"/>
<circle cx="468.10" cy="234.60" r="3.05" fill="#00AA00"/>
<circle cx="82.90" cy="167.40" r="3.05" fill="#996633"/>
<circle cx="115.00" cy="164.60" r="3.05" fill="#996633"/>
<circle cx="147.10" cy="171.00" r="3.05" fill="#996633"/>
<circle cx="179.20" cy="178.80" r="3.05" fill="#996633"/>
<circle cx="211.30" cy="205.20" r="3.05" fill="#996633"/>
<circle cx="243.40" cy="204.40" r="3.05" fill="#996633"/>
<circle cx="275.50" cy="209.00" r="3.05" fill="#996633"/>
<circle cx="307.60" cy="230.20" r="3.05" fill="#996633"/>
<circle cx="339.70" cy="226.60" r="3.05" fill="#996633"/>
<circle cx="371.80" cy="230.00" r="3.05" fill="#996633"/>
<circle cx="403.90" cy="240.00" r="3.05" fill="#996633"/>
<circle cx="436.00" cy="233.60" r="3.05" fill="#996633"/>
<circle cx="468.10" cy="266.20" r="3.05" fill="#996633"/>
<circle cx="339.70" cy="228.2" r="3.05" fill="#00FF00"/>
<rect x="12.5" y="0.5" width="559.00" height="346.3" fill="none" stroke="#666" stroke-width="0.7"/>
<path d="M24.80,346.8v-3.9M24.80,0.5v3.9M49.65,346.8v-3.9M49.65,0.5v3.9M74.50,346.8v-6.2M74.50,0.5v6.2M99.35,346.8v-3.9M99.35,0.5v3.9M124.20,346.8v-3.9M124.20,0.5v3.9M149.05,346.8v-3.9M149.05,0.5v3.9M173.90,346.8v-3.9M173.90,0.5v3.9M198.75,346.8v-6.2M198.75,0.5v6.2M223.60,346.8v-3.9M223.60,0.5v3.9M248.45,346.8v-3.9M248.45,0.5v3.9M273.30,346.8v-3.9M273.30,0.5v3.9M298.15,346.8v-3.9M298.15,0.5v3.9M323.00,346.8v-6.2M323.00,0.5v6.2M347.85,346.8v-3.9M347.85,0.5v3.9M372.70,346.8v-3.9M372.70,0.5v3.9M397.55,346.8v-3.9M397.55,0.5v3.9M422.40,346.8v-3.9M422.40,0.5v3.9M447.25,346.8v-6.2M447.25,0.5v6.2M472.10,346.8v-3.9M472.10,0.5v3.9M496.95,346.8v-3.9M496.95,0.5v3.9M521.80,346.8v-3.9M521.80,0.5v3.9M546.65,346.8v-3.9M546.65,0.5v3.9M571.50,346.8v-6.2M571.50,0.5v6.2M12.5,346.80h6.2M571.50,346.80h-6.2M12.5,330.36h3.9M571.50,330.36h-3.9M12.5,313.87h3.9M571.50,313.87h-3.9M12.5,297.37h3.9M571.50,297.37h-3.9M12.5,280.88h3.9M571.50,280.88h-3.9M12.5,264.39h6.2M571.50,264.39h-6.2M12.5,247.90h3.9M571.50,247.90h-3.9M12.5,231.41h3.9M571.50,231.41h-3.9M12.5,214.91h3.9M571.50,214.91h-3.9M12.5,198.42h3.9M571.50,198.42h-3.9M12.5,181.93h6.2M571.50,181.93h-6.2M12.5,165.44h3.9M571.50,165.44h-3.9M12.5,148.95h3.9M571.50,148.95h-3.9M12.5,132.45h3.9M571.50,132.45h-3.9M12.5,115.96h3.9M571.50,115.96h-3.9M12.5,99.47h6.2M571.50,99.47h-6.2M12.5,82.98h3.9M571.50,82.98h-3.9M12.5,66.49h3.9M571.50,66.49h-3.9M12.5,49.99h3.9M571.50,49.99h-3.9M12.5,33.50h3.9M571.50,33.50h-3.9M12.5,17.01h6.2M571.50,17.01h-6.2M12.5,0.52h3.9M571.50,0.52h-3.9" stroke="#555" stroke-width="0.8" fill="none"/>
<path d="M6.35,352.5H4.85V343.3C4.0,344.1 3.0,344.8 1.6,345.3V343.9C3.3,343.2 4.7,341.9 5.35,340.4H6.35Z" fill="#000"/>
<path d="M589.7,143.2H611.3" stroke="#5E81B5" stroke-width="2.2"/>
<path d="M589.7,170.4H611.3" stroke="#E19C24" stroke-width="2.2"/>
<path d="M589.7,197.4H611.3" stroke="#8FB032" stroke-width="2.2"/>
<path d="M589.7,224.4H611.3" stroke="#EB6235" stroke-width="2.2"/>
</svg>
<div class="t xl" style="left:73.7px">2</div>
<div class="t xl" style="left:198.9px">3</div>
<div class="t xl" style="left:322.2px">4</div>
<div class="t xl" style="left:448.4px">5</div>
<div class="t xl" style="left:571.7px">6</div>
<div class="t yl" style="top:263.9px;left:-0.4px">2</div>
<div class="t yl" style="top:181.4px;left:-0.4px">3</div>
<div class="t yl" style="top:98.7px;left:-1px">4</div>
<div class="t yl" style="top:17.2px;left:-0.5px">5</div>
<div class="lg" style="top:143.2px;left:620.8px">0<sup>&minus;&minus;</sup></div>
<div class="lg" style="top:170.4px;left:620.8px">0<sup>++</sup></div>
<div class="lg" style="top:197.4px;left:620.3px">2<sup style="margin-right:0.8px">++</sup> and 2<sup>&minus;+</sup></div>
<div class="lg" style="top:224.4px;left:620.8px"><span style="display:inline-block;transform:scaleX(0.95);transform-origin:0 50%">GGRT</span></div>
</body></html>
